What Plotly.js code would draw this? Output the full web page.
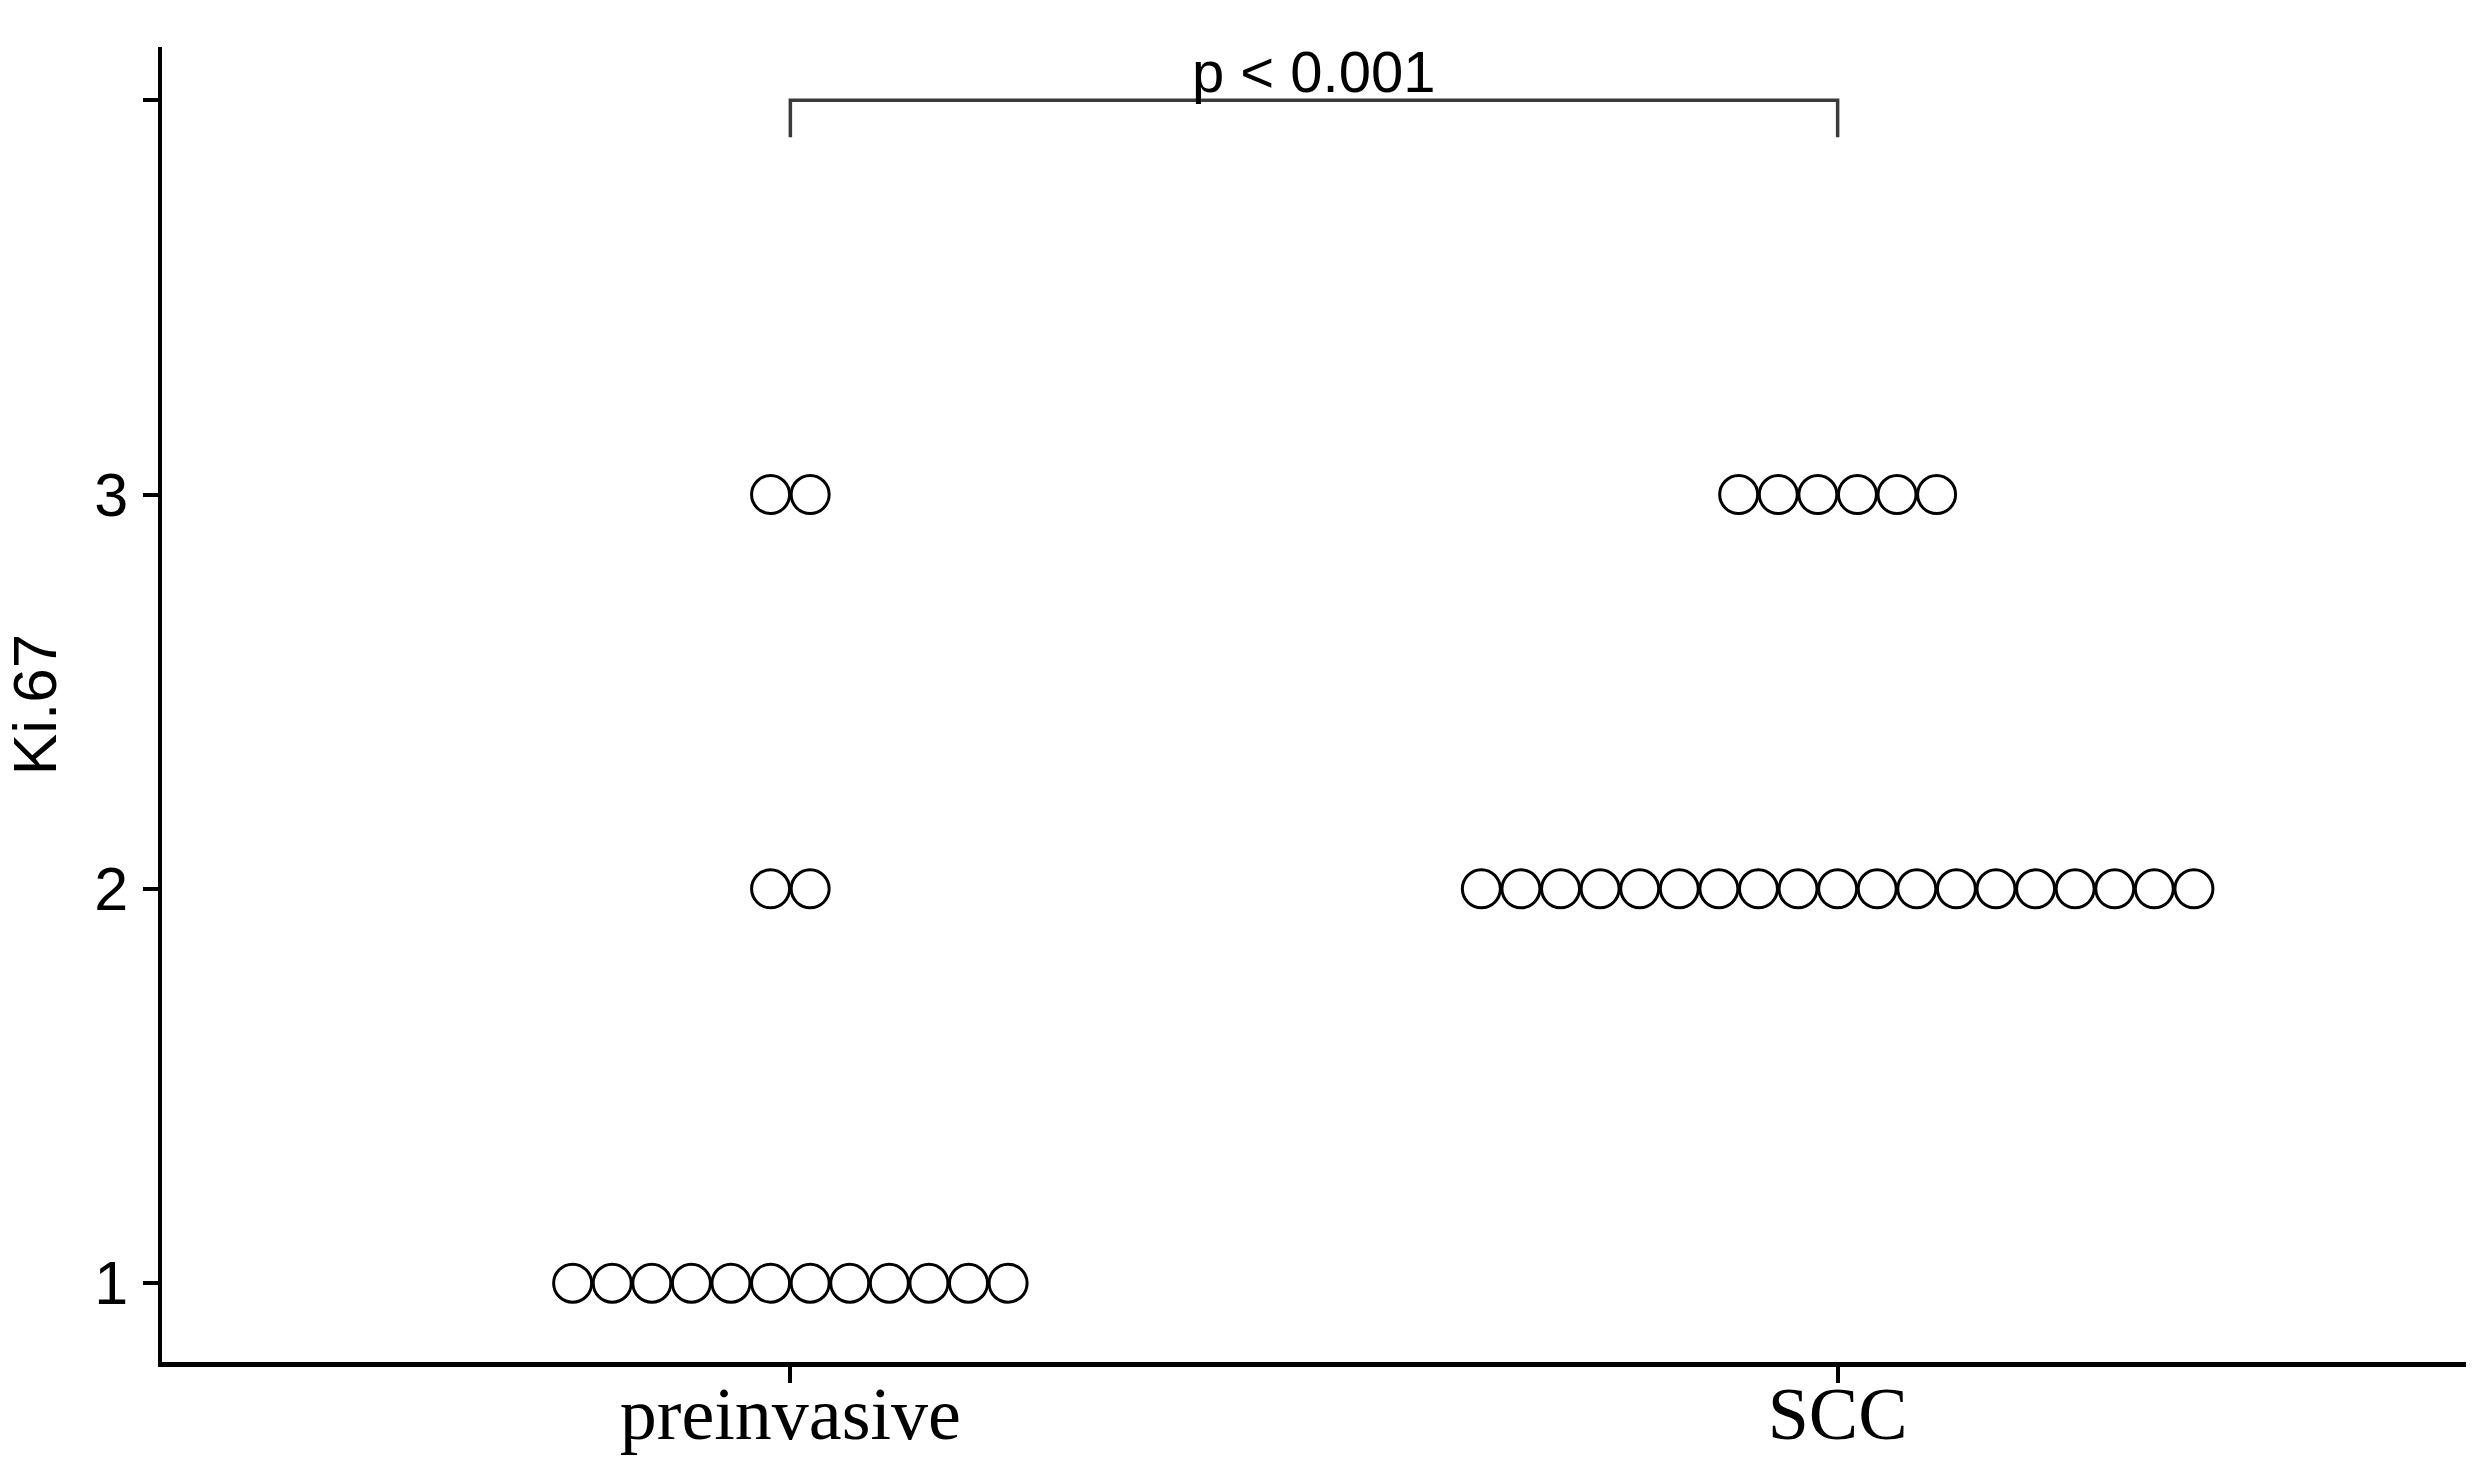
<!DOCTYPE html>
<html>
<head>
<meta charset="utf-8">
<script src="https://cdn.plot.ly/plotly-3.0.1.min.js"></script>
<style>
  html, body { margin: 0; padding: 0; background: #ffffff; }
  #chart { width: 2479px; height: 1475px; }
</style>
</head>
<body>
<div id="chart"></div>
<script>
// ---- data ----
const categories = ["preinvasive", "SCC"];
const preinvasiveKi67 = [1,1,1,1,1,1,1,1,1,1,1,1, 2,2, 3,3];
const sccKi67 = [2,2,2,2,2,2,2,2,2,2,2,2,2,2,2,2,2,2,2, 3,3,3,3,3,3];
const yTickVals = [1, 2, 3, 4];
const yTickText = ["1", "2", "3", ""];
const yTitle = "Ki.67";
const pLabel = "p < 0.001";

// ---- layout constants ----
const dotStep = 0.0378;     // horizontal spacing between stacked dots (x units)
const bracketY = 4;         // height of comparison bracket
const bracketTip = 0.094;   // length of bracket legs

// build dot-plot positions: centred stacks per value
function dotPositions(values, catIndex) {
  const counts = {};
  values.forEach(v => { counts[v] = (counts[v] || 0) + 1; });
  const xs = [], ys = [];
  Object.keys(counts).forEach(k => {
    const n = counts[k];
    for (let i = 0; i < n; i++) {
      xs.push(catIndex + (i - (n - 1) / 2) * dotStep);
      ys.push(Number(k));
    }
  });
  return { xs, ys };
}

const groups = [preinvasiveKi67, sccKi67];
const traces = groups.map((vals, gi) => {
  const p = dotPositions(vals, gi);
  return {
    type: "scatter",
    mode: "markers",
    x: p.xs,
    y: p.ys,
    name: categories[gi],
    showlegend: false,
    hoverinfo: "skip",
    marker: {
      symbol: "circle",
      size: 38,
      color: "#ffffff",
      line: { color: "#000000", width: 3 }
    },
    cliponaxis: false
  };
});

const layout = {
  width: 2479,
  height: 1475,
  paper_bgcolor: "#ffffff",
  plot_bgcolor: "#ffffff",
  margin: { l: 162, r: 13, t: 47, b: 113 },
  showlegend: false,
  xaxis: {
    range: [-0.6, 1.6],
    tickvals: [0, 1],
    ticktext: categories,
    showgrid: false,
    zeroline: false,
    showline: true,
    linecolor: "#000000",
    linewidth: 4.5,
    ticks: "outside",
    ticklen: 16,
    tickwidth: 4,
    tickcolor: "#000000",
    ticklabelstandoff: -32,
    tickfont: { family: "Liberation Serif, Times New Roman, serif", size: 74, color: "#000000" },
    automargin: false
  },
  yaxis: {
    range: [0.8, 4.135],
    tickvals: yTickVals,
    ticktext: yTickText,
    showgrid: false,
    zeroline: false,
    showline: true,
    linecolor: "#000000",
    linewidth: 4.5,
    ticks: "outside",
    ticklen: 15,
    tickwidth: 4,
    tickcolor: "#000000",
    ticklabelstandoff: 2,
    tickfont: { family: "Liberation Sans, Arial, sans-serif", size: 61, color: "#000000" },
    title: {
      text: yTitle,
      font: { family: "Liberation Sans, Arial, sans-serif", size: 62, color: "#000000" },
      standoff: 22
    },
    automargin: false
  },
  shapes: [
    {
      type: "path",
      xref: "x", yref: "y",
      path: "M 0 " + (bracketY - bracketTip) + " L 0 " + bracketY + " L 1 " + bracketY + " L 1 " + (bracketY - bracketTip),
      line: { color: "#3a3a3a", width: 3.5 }
    }
  ],
  annotations: [
    {
      xref: "x", yref: "y",
      x: 0.5, y: bracketY,
      text: pLabel,
      showarrow: false,
      xanchor: "center",
      yanchor: "bottom",
      yshift: -6,
      font: { family: "Liberation Sans, Arial, sans-serif", size: 58, color: "#000000" }
    }
  ]
};

Plotly.newPlot("chart", traces, layout, { staticPlot: true, displayModeBar: false });
</script>
</body>
</html>
